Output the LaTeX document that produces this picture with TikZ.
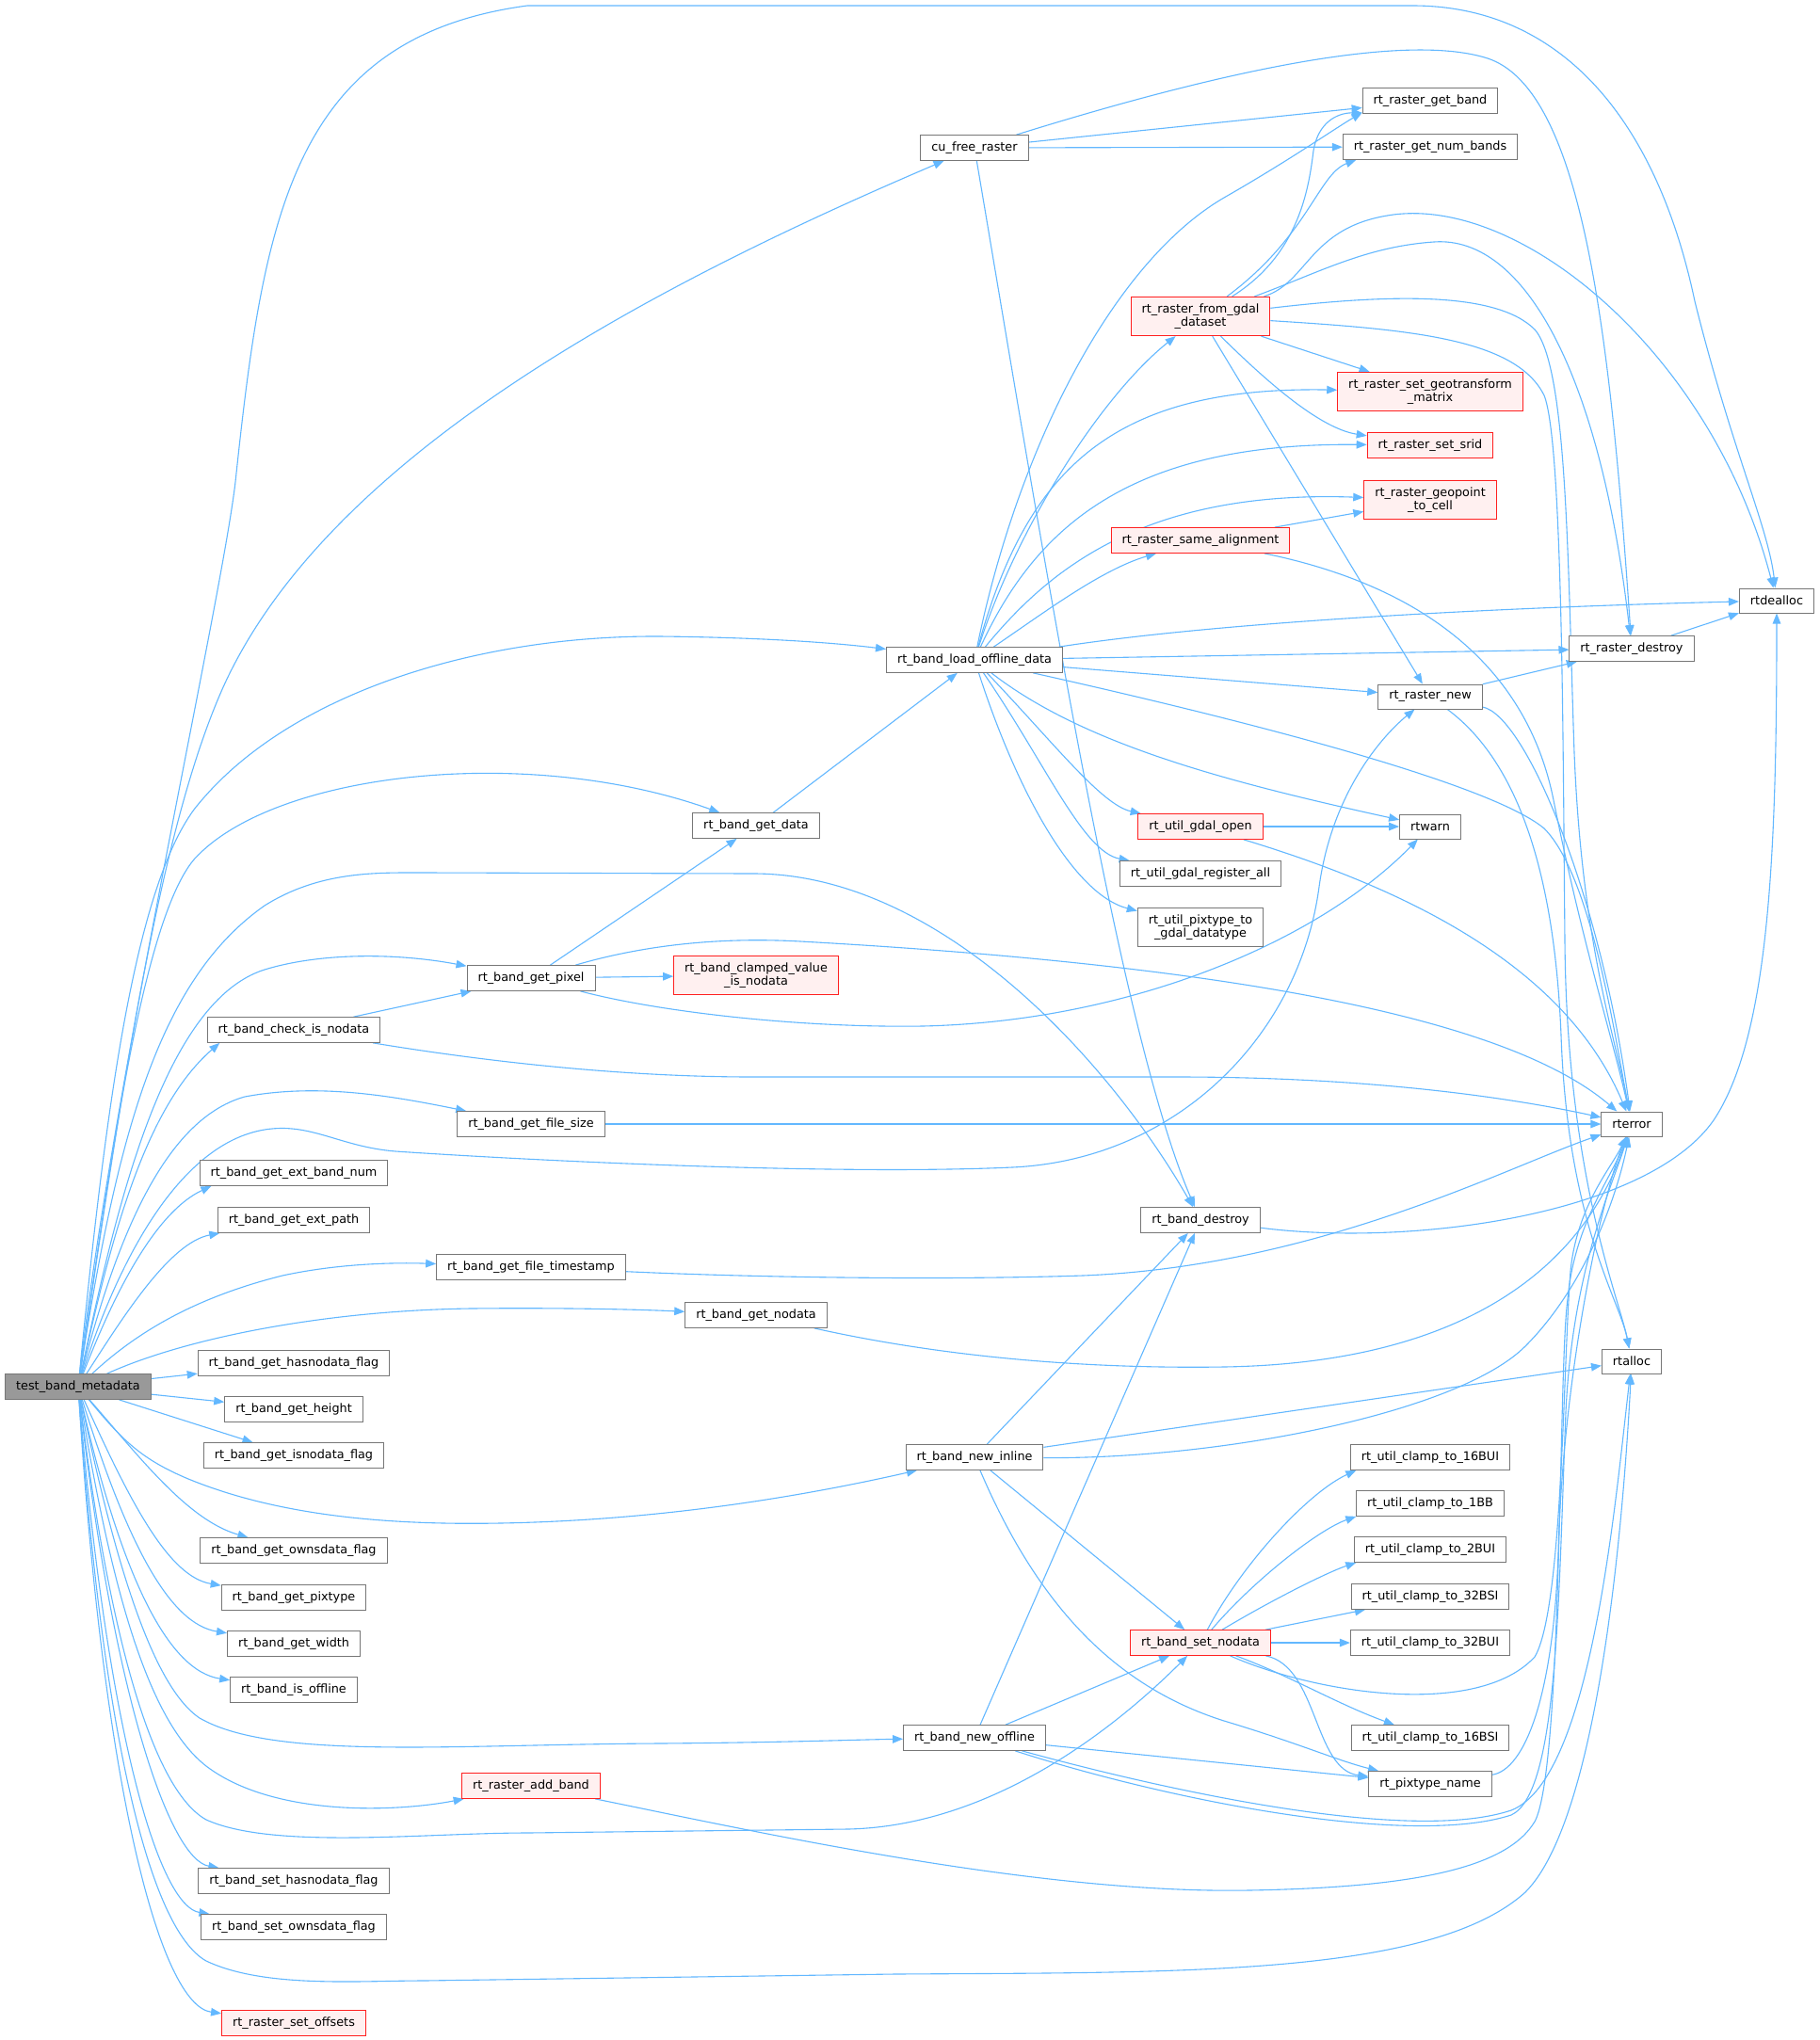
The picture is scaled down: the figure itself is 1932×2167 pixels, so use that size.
\documentclass[tikz,border=0pt]{standalone}
\usepackage{fontspec}
\setmainfont{DejaVu Sans}
\usetikzlibrary{arrows.meta, backgrounds}
\definecolor{edgeblue}{HTML}{63B8FF}
\definecolor{nodeborder}{HTML}{777777}
\definecolor{rootfill}{HTML}{999999}
\definecolor{redborder}{HTML}{FF2020}
\definecolor{redfill}{HTML}{FFF0F0}
\newcommand{\callfont}{\fontsize{12.8}{14.5}\selectfont}

\begin{document}
\begin{tikzpicture}[x=1pt, y=-1pt,
  fn/.style={rectangle, draw=nodeborder, fill=white, line width=1pt, inner xsep=11.5pt, inner ysep=7pt, minimum height=26pt, font=\callfont, align=center},
  fnred/.style={fn, draw=redborder, fill=redfill},
  fnroot/.style={fn, fill=rootfill},
  call/.style={-{Triangle[length=11pt,width=8.5pt]}, draw=edgeblue, line width=1.1pt}
]
\useasboundingbox (0,0) rectangle (1932,2167);

\node[fnroot] (tbm) at (83,1473) {test\_band\_metadata};
\node[fn] (cufree) at (1035,157) {cu\_free\_raster};
\node[fn] (getband) at (1519,107) {rt\_raster\_get\_band};
\node[fn] (numbands) at (1519,156) {rt\_raster\_get\_num\_bands};
\node[fnred] (fromgdal) at (1275,336) {rt\_raster\_from\_gdal\\\_dataset};
\node[fnred] (geotrans) at (1519,416) {rt\_raster\_set\_geotransform\\\_matrix};
\node[fnred] (setsrid) at (1519,473) {rt\_raster\_set\_srid};
\node[fnred] (geopoint) at (1519,531) {rt\_raster\_geopoint\\\_to\_cell};
\node[fnred] (samealign) at (1275,574) {rt\_raster\_same\_alignment};
\node[fn] (dealloc) at (1887,638) {rtdealloc};
\node[fn] (rdestroy) at (1733,689) {rt\_raster\_destroy};
\node[fn] (loadoff) at (1035,701) {rt\_band\_load\_offline\_data};
\node[fn] (rnew) at (1519,740) {rt\_raster\_new};
\node[fnred] (gdalopen) at (1275,878) {rt\_util\_gdal\_open};
\node[fn] (rtwarn) at (1519,878) {rtwarn};
\node[fn] (gdalreg) at (1275,928) {rt\_util\_gdal\_register\_all};
\node[fn] (pix2gdal) at (1275,985) {rt\_util\_pixtype\_to\\\_gdal\_datatype};
\node[fn] (getdata) at (803,877) {rt\_band\_get\_data};
\node[fn] (getpixel) at (564,1039) {rt\_band\_get\_pixel};
\node[fnred] (clamped) at (803,1036) {rt\_band\_clamped\_value\\\_is\_nodata};
\node[fn] (checknd) at (312,1094) {rt\_band\_check\_is\_nodata};
\node[fn] (filesize) at (564,1194) {rt\_band\_get\_file\_size};
\node[fn] (rterror) at (1733,1194) {rterror};
\node[fn] (extnum) at (312,1246) {rt\_band\_get\_ext\_band\_num};
\node[fn] (extpath) at (312,1296) {rt\_band\_get\_ext\_path};
\node[fn] (bdestroy) at (1275,1296) {rt\_band\_destroy};
\node[fn] (filets) at (564,1346) {rt\_band\_get\_file\_timestamp};
\node[fn] (getnodata) at (803,1397) {rt\_band\_get\_nodata};
\node[fn] (rtalloc) at (1733,1446) {rtalloc};
\node[fn] (hasnd) at (312,1448) {rt\_band\_get\_hasnodata\_flag};
\node[fn] (getheight) at (312,1497) {rt\_band\_get\_height};
\node[fn] (isnd) at (312,1546) {rt\_band\_get\_isnodata\_flag};
\node[fn] (newinline) at (1035,1548) {rt\_band\_new\_inline};
\node[fn] (c16bui) at (1519,1548) {rt\_util\_clamp\_to\_16BUI};
\node[fn] (c1bb) at (1519,1597) {rt\_util\_clamp\_to\_1BB};
\node[fn] (c2bui) at (1519,1646) {rt\_util\_clamp\_to\_2BUI};
\node[fn] (ownsd) at (312,1647) {rt\_band\_get\_ownsdata\_flag};
\node[fn] (c32bsi) at (1519,1696) {rt\_util\_clamp\_to\_32BSI};
\node[fn] (getpixtype) at (312,1697) {rt\_band\_get\_pixtype};
\node[fnred] (setnodata) at (1275,1745) {rt\_band\_set\_nodata};
\node[fn] (c32bui) at (1519,1745) {rt\_util\_clamp\_to\_32BUI};
\node[fn] (getwidth) at (312,1746) {rt\_band\_get\_width};
\node[fn] (isoff) at (312,1795) {rt\_band\_is\_offline};
\node[fn] (newoffline) at (1035,1846) {rt\_band\_new\_offline};
\node[fn] (c16bsi) at (1519,1846) {rt\_util\_clamp\_to\_16BSI};
\node[fn] (pixname) at (1519,1895) {rt\_pixtype\_name};
\node[fnred] (addband) at (564,1897) {rt\_raster\_add\_band};
\node[fn] (sethasnd) at (312,1998) {rt\_band\_set\_hasnodata\_flag};
\node[fn] (setownsd) at (312,2047) {rt\_band\_set\_ownsdata\_flag};
\node[fnred] (setoff) at (312,2149) {rt\_raster\_set\_offsets};

\begin{scope}[on background layer]
\fill[white] (0,0) rectangle (1932,2167);
% calls from test_band_metadata
\draw[call] (tbm) .. controls (120,1150) and (235,640) .. (250,512) .. controls (280,230) and (310,40) .. (560,6) -- (1500,6) .. controls (1660,6) and (1760,130) .. (1800,320) .. controls (1840,480) and (1878,560) .. (dealloc);
\draw[call] (tbm) .. controls (130,1150) and (170,880) .. (237,730) .. controls (350,480) and (700,300) .. (cufree);
\draw[call] (tbm) .. controls (110,1200) and (140,950) .. (206,860) .. controls (300,740) and (500,675) .. (700,676) .. controls (800,677) and (880,682) .. (loadoff);
\draw[call] (tbm) .. controls (115,1250) and (150,980) .. (206,913) .. controls (290,820) and (560,790) .. (getdata);
\draw[call] (tbm) .. controls (125,1200) and (170,1040) .. (281,962) .. controls (340,925) and (400,927) .. (450,927) -- (800,928) .. controls (1000,928) and (1180,1130) .. (bdestroy);
\draw[call] (tbm) .. controls (120,1300) and (170,1065) .. (281,1030) .. controls (340,1012) and (420,1012) .. (getpixel);
\draw[call] (tbm) .. controls (115,1330) and (150,1180) .. (checknd.190);
\draw[call] (tbm) .. controls (120,1330) and (170,1190) .. (260,1165) .. controls (340,1150) and (420,1165) .. (filesize);
\draw[call] (tbm) .. controls (125,1340) and (190,1215) .. (281,1200) .. controls (330,1192) and (360,1218) .. (420,1223) .. controls (600,1235) and (900,1248) .. (1075,1240) .. controls (1250,1232) and (1380,1100) .. (1401,942) .. controls (1415,840) and (1470,780) .. (rnew);
\draw[call] (tbm) .. controls (115,1390) and (160,1290) .. (extnum.189);
\draw[call] (tbm) .. controls (130,1400) and (180,1320) .. (extpath.190);
\draw[call] (tbm) .. controls (140,1420) and (200,1380) .. (300,1355) .. controls (360,1342) and (420,1341) .. (filets);
\draw[call] (tbm) .. controls (200,1420) and (350,1392) .. (500,1390) .. controls (600,1389) and (680,1391) .. (getnodata);
\draw[call] (tbm) -- (hasnd);
\draw[call] (tbm) -- (getheight);
\draw[call] (tbm) -- (isnd);
\draw[call] (tbm) .. controls (130,1530) and (150,1550) .. (200,1571) .. controls (300,1612) and (420,1620) .. (531,1618) .. controls (700,1615) and (850,1590) .. (newinline);
\draw[call] (tbm) .. controls (150,1550) and (200,1615) .. (ownsd);
\draw[call] (tbm) .. controls (140,1600) and (180,1675) .. (getpixtype);
\draw[call] (tbm) .. controls (135,1640) and (180,1725) .. (getwidth);
\draw[call] (tbm) .. controls (130,1680) and (180,1775) .. (isoff);
\draw[call] (tbm) .. controls (120,1650) and (160,1790) .. (212,1825) .. controls (290,1870) and (480,1853) .. (700,1852) .. controls (830,1851) and (910,1848) .. (newoffline);
\draw[call] (tbm) .. controls (120,1700) and (160,1830) .. (219,1876) .. controls (290,1930) and (420,1925) .. (addband);
\draw[call] (tbm) .. controls (115,1730) and (160,1900) .. (219,1933) .. controls (290,1965) and (450,1947) .. (560,1947) -- (900,1943) .. controls (1050,1940) and (1180,1840) .. (setnodata);
\draw[call] (tbm) .. controls (120,1800) and (180,1975) .. (sethasnd);
\draw[call] (tbm) .. controls (115,1850) and (170,2025) .. (setownsd);
\draw[call] (tbm) .. controls (110,1850) and (160,2050) .. (219,2083) .. controls (280,2112) and (380,2104) .. (450,2104) -- (950,2097) .. controls (1250,2095) and (1520,2100) .. (1620,2010) .. controls (1700,1930) and (1725,1600) .. (rtalloc);
\draw[call] (tbm) .. controls (110,1900) and (170,2130) .. (setoff);
% cu_free_raster
\draw[call] (cufree) -- (getband);
\draw[call] (cufree) -- (numbands);
\draw[call] (cufree) .. controls (1250,90) and (1480,30) .. (1580,62) .. controls (1680,95) and (1710,350) .. (rdestroy);
\draw[call] (cufree) .. controls (1110,600) and (1190,1100) .. (bdestroy);
% rt_band_load_offline_data
\draw[call] (loadoff) .. controls (1080,480) and (1180,280) .. (1300,210) .. controls (1370,170) and (1420,135) .. (getband.190);
\draw[call] (loadoff) .. controls (1080,560) and (1170,420) .. (fromgdal);
\draw[call] (loadoff) .. controls (1090,500) and (1180,410) .. (geotrans);
\draw[call] (loadoff) .. controls (1100,560) and (1200,470) .. (setsrid);
\draw[call] (loadoff) .. controls (1110,610) and (1210,520) .. (geopoint);
\draw[call] (loadoff) .. controls (1110,650) and (1170,605) .. (samealign);
\draw[call] (loadoff) .. controls (1300,660) and (1600,645) .. (dealloc);
\draw[call] (loadoff) -- (rdestroy);
\draw[call] (loadoff) -- (rnew);
\draw[call] (loadoff) .. controls (1300,760) and (1580,830) .. (1640,880) .. controls (1690,930) and (1715,1100) .. (rterror);
\draw[call] (loadoff) .. controls (1150,790) and (1300,830) .. (rtwarn);
\draw[call] (loadoff) .. controls (1120,790) and (1170,855) .. (gdalopen);
\draw[call] (loadoff) .. controls (1110,810) and (1150,905) .. (gdalreg);
\draw[call] (loadoff) .. controls (1080,840) and (1140,950) .. (pix2gdal);
\draw[call] (getdata) -- (loadoff);
% rt_raster_from_gdal_dataset
\draw[call] (fromgdal) .. controls (1380,270) and (1390,200) .. (1395,160) .. controls (1400,130) and (1420,120) .. (getband.190);
\draw[call] (fromgdal) .. controls (1390,250) and (1400,185) .. (numbands.190);
\draw[call] (fromgdal) .. controls (1390,300) and (1390,240) .. (1480,228) .. controls (1620,210) and (1820,380) .. (dealloc);
\draw[call] (fromgdal) .. controls (1400,290) and (1450,262) .. (1523,257) .. controls (1620,250) and (1700,400) .. (rdestroy);
\draw[call] (fromgdal) .. controls (1480,312) and (1590,310) .. (1630,350) .. controls (1665,390) and (1665,600) .. (1672,800) .. controls (1680,1000) and (1715,1100) .. (rterror);
\draw[call] (fromgdal) .. controls (1500,350) and (1610,360) .. (1640,420) .. controls (1660,470) and (1660,800) .. (1662,1000) .. controls (1664,1250) and (1720,1380) .. (rtalloc);
\draw[call] (fromgdal) -- (geotrans);
\draw[call] (fromgdal) .. controls (1340,400) and (1400,455) .. (setsrid);
\draw[call] (fromgdal) -- (rnew);
% rt_raster_same_alignment, rt_raster_new, rt_raster_destroy
\draw[call] (samealign) -- (geopoint);
\draw[call] (samealign) .. controls (1500,620) and (1620,700) .. (1650,850) .. controls (1680,1000) and (1712,1100) .. (rterror);
\draw[call] (rdestroy) -- (dealloc);
\draw[call] (rnew) -- (rdestroy);
\draw[call] (rnew) .. controls (1620,760) and (1700,950) .. (rterror);
\draw[call] (rnew) .. controls (1600,800) and (1650,900) .. (1658,1100) .. controls (1665,1300) and (1720,1380) .. (rtalloc);
\draw[call] (gdalopen) -- (rtwarn);
\draw[call] (gdalopen) .. controls (1480,940) and (1660,1020) .. (rterror);
% rt_band_get_pixel and friends
\draw[call] (getpixel) -- (getdata);
\draw[call] (getpixel) -- (clamped);
\draw[call] (getpixel) .. controls (680,1005) and (760,995) .. (850,1000) .. controls (1300,1025) and (1600,1080) .. (rterror);
\draw[call] (getpixel) .. controls (700,1075) and (850,1092) .. (980,1090) .. controls (1200,1085) and (1400,1000) .. (rtwarn);
\draw[call] (checknd) -- (getpixel);
\draw[call] (checknd) .. controls (500,1125) and (650,1144) .. (800,1144) -- (1250,1144) .. controls (1450,1144) and (1600,1165) .. (rterror);
\draw[call] (filesize) -- (rterror);
\draw[call] (filets) .. controls (800,1357) and (1000,1360) .. (1150,1355) .. controls (1400,1345) and (1600,1240) .. (rterror);
\draw[call] (getnodata) .. controls (950,1430) and (1100,1455) .. (1300,1452) .. controls (1550,1448) and (1680,1350) .. (rterror);
\draw[call] (bdestroy) .. controls (1500,1325) and (1750,1290) .. (1820,1190) .. controls (1880,1100) and (1887,900) .. (dealloc);
% rt_band_new_inline / rt_band_new_offline
\draw[call] (newinline) -- (bdestroy);
\draw[call] (newinline) -- (rtalloc);
\draw[call] (newinline) -- (setnodata);
\draw[call] (newinline) .. controls (1300,1550) and (1550,1500) .. (1620,1430) .. controls (1680,1370) and (1715,1280) .. (rterror);
\draw[call] (newinline) .. controls (1100,1700) and (1180,1790) .. (1300,1828) .. controls (1380,1852) and (1420,1870) .. (pixname);
\draw[call] (newoffline) -- (bdestroy);
\draw[call] (newoffline) -- (setnodata);
\draw[call] (newoffline) -- (pixname);
\draw[call] (newoffline) .. controls (1250,1915) and (1500,1962) .. (1605,1928) .. controls (1655,1905) and (1655,1700) .. (1663,1500) .. controls (1670,1350) and (1712,1260) .. (rterror);
\draw[call] (newoffline) .. controls (1250,1905) and (1500,1958) .. (1605,1923) .. controls (1690,1890) and (1715,1600) .. (rtalloc);
% rt_band_set_nodata
\draw[call] (setnodata) .. controls (1320,1660) and (1390,1585) .. (c16bui.190);
\draw[call] (setnodata) .. controls (1330,1680) and (1400,1625) .. (c1bb.190);
\draw[call] (setnodata) .. controls (1350,1700) and (1410,1670) .. (c2bui.190);
\draw[call] (setnodata) -- (c32bsi);
\draw[call] (setnodata) -- (c32bui);
\draw[call] (setnodata) .. controls (1370,1780) and (1420,1810) .. (c16bsi);
\draw[call] (setnodata) .. controls (1400,1770) and (1395,1880) .. (pixname);
\draw[call] (setnodata) .. controls (1400,1800) and (1570,1825) .. (1630,1760) .. controls (1660,1710) and (1660,1450) .. (1668,1350) .. controls (1675,1280) and (1712,1240) .. (rterror);
\draw[call] (pixname) .. controls (1620,1880) and (1650,1800) .. (1655,1650) .. controls (1660,1450) and (1705,1260) .. (rterror);
\draw[call] (addband) .. controls (800,1945) and (1100,2012) .. (1326,2008) .. controls (1500,2005) and (1600,1985) .. (1630,1935) .. controls (1660,1880) and (1655,1450) .. (1665,1380) .. controls (1672,1300) and (1712,1250) .. (rterror);
\end{scope}
\end{tikzpicture}
\end{document}
